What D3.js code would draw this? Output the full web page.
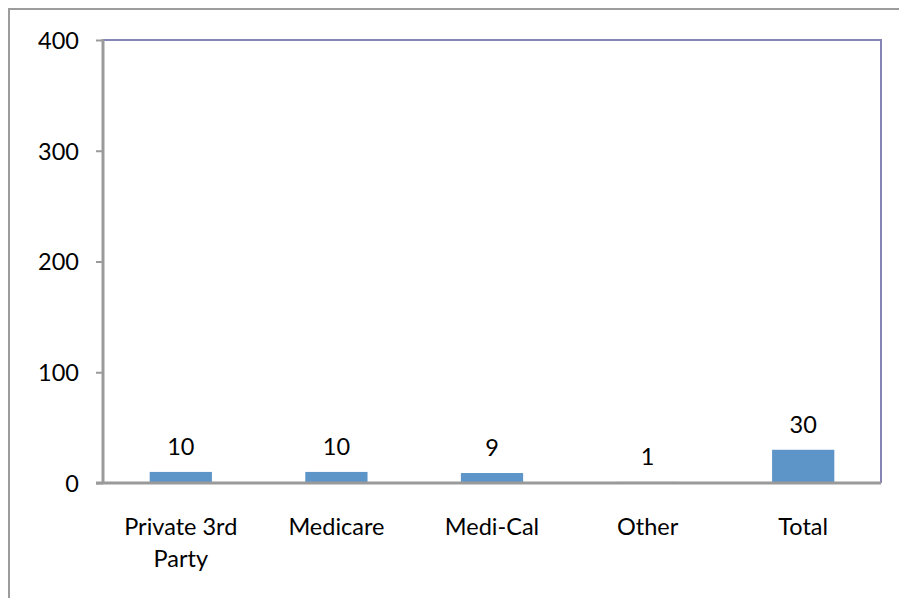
<!DOCTYPE html>
<html><head><meta charset="utf-8">
<script src="https://cdn.jsdelivr.net/npm/d3@7"></script>
<style>html,body{margin:0;padding:0;background:#fff;}svg{display:block;font-family:Lato,"Open Sans",sans-serif;}</style>
</head><body>
<script>
const categories = ["Private 3rd Party", "Medicare", "Medi-Cal", "Other", "Total"];
const categoryLines = [["Private 3rd", "Party"], ["Medicare"], ["Medi-Cal"], ["Other"], ["Total"]];
const values = [10, 10, 9, 1, 30];
const yTicks = [0, 100, 200, 300, 400];

(function () {
const W = 899, H = 598, FS = 23.5;
const svg = d3.select("body").append("svg").attr("width", W).attr("height", H);

// outer frame
svg.append("rect").attr("x", 9).attr("y", 9).attr("width", W + 10).attr("height", H + 10)
  .attr("fill", "none").attr("stroke", "#9c9c9c").attr("stroke-width", 2);

const pL = 103, pR = 881, pT = 40, pB = 483;
const x = d3.scaleBand().domain(categories).range([pL, pR]).padding(0);
const y = d3.scaleLinear().domain([0, 400]).range([pB, pT]);

// plot border (top/right)
svg.append("path").attr("d", `M${pL},${pT}H${pR}V${pB}`)
  .attr("fill", "none").attr("stroke", "#8584b4").attr("stroke-width", 2);

// bars
const bw = x.bandwidth() * 0.4;
svg.selectAll("rect.bar").data(values).enter().append("rect")
  .attr("class", "bar")
  .attr("x", (d, i) => x(categories[i]) + x.bandwidth() / 2 - bw / 2)
  .attr("y", d => y(d))
  .attr("width", bw)
  .attr("height", d => y(0) - y(d))
  .attr("fill", "#5e95c8");

// value labels
svg.selectAll("text.val").data(values).enter().append("text")
  .attr("class", "val")
  .attr("x", (d, i) => x(categories[i]) + x.bandwidth() / 2)
  .attr("y", d => y(d) - 17)
  .attr("text-anchor", "middle").attr("font-size", FS).attr("fill", "#000")
  .text(d => d);

// y axis
const yAxis = d3.axisLeft(y).tickValues(yTicks).tickSize(7).tickPadding(17).tickFormat(d3.format("d"));
const gy = svg.append("g").attr("transform", `translate(${pL},0)`).call(yAxis);
gy.select(".domain").attr("stroke", "#9a9a9a").attr("stroke-width", 3).attr("d", `M0,${pT - 1}V${pB}`);
gy.selectAll(".tick line").attr("stroke", "#9a9a9a").attr("stroke-width", 2);
gy.selectAll(".tick text").attr("font-size", FS).attr("fill", "#000").attr("font-family", "Lato,sans-serif").attr("dy", "0.36em");

// x axis
svg.append("line").attr("x1", pL - 7).attr("x2", pR).attr("y1", pB).attr("y2", pB)
  .attr("stroke", "#9a9a9a").attr("stroke-width", 3);

// category labels
categoryLines.forEach((lines, i) => {
  const t = svg.append("text").attr("text-anchor", "middle").attr("font-size", FS).attr("fill", "#000");
  lines.forEach((ln, j) => {
    t.append("tspan").attr("x", x(categories[i]) + x.bandwidth() / 2).attr("y", 535 + j * 32).text(ln);
  });
});
})();
</script>
</body></html>
